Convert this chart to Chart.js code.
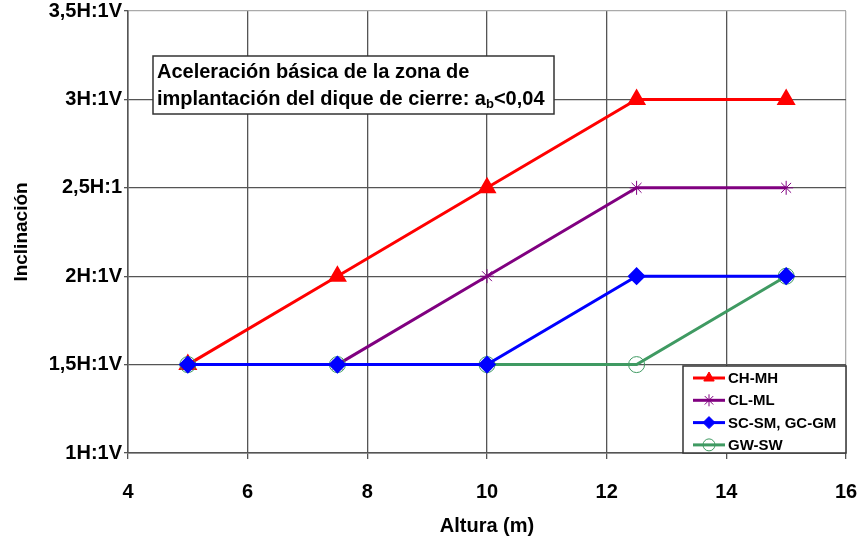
<!DOCTYPE html>
<html>
<head>
<meta charset="utf-8">
<script src="https://cdn.jsdelivr.net/npm/chart.js@4"></script>
<style>
  html, body { margin: 0; padding: 0; background: #fff; }
  #wrap { width: 862px; height: 542px; }
</style>
</head>
<body>
<div id="wrap"><canvas id="chart" width="862" height="542"></canvas></div>
<script>
const FONT = "'Liberation Sans', Arial, sans-serif"

const seriesNames = ['CH-MH', 'CL-ML', 'SC-SM, GC-GM', 'GW-SW']
const chMh = [[5, 1.5], [7.5, 2], [10, 2.5], [12.5, 3], [15, 3]]
const clMl = [[7.5, 1.5], [10, 2], [12.5, 2.5], [15, 2.5]]
const scSm = [[5, 1.5], [7.5, 1.5], [10, 1.5], [12.5, 2], [15, 2]]
const gwSw = [[5, 1.5], [7.5, 1.5], [10, 1.5], [12.5, 1.5], [15, 2]]
const yTickLabels = { 1: '1H:1V', 1.5: '1,5H:1V', 2: '2H:1V', 2.5: '2,5H:1', 3: '3H:1V', 3.5: '3,5H:1V' }

const toPoints = arr => arr.map(([x, y]) => ({ x, y }))

const colors = ['#ff0000', '#800080', '#0000ff', '#3f9a62']

// legend box drawn inside the plot, bottom right
const boxLegend = {
  id: 'boxLegend',
  afterDraw (chart) {
    const { ctx, chartArea } = chart
    const w = 163
    const h = 87
    const left = chartArea.right - w
    const top = chartArea.bottom - h
    ctx.save()
    ctx.fillStyle = '#fff'
    ctx.fillRect(left, top, w, h)
    ctx.strokeStyle = '#333'
    ctx.lineWidth = 1.5
    ctx.strokeRect(left, top, w, h)
    ctx.font = `bold 15px ${FONT}`
    ctx.textBaseline = 'middle'
    chart.data.datasets.forEach((ds, i) => {
      const y = top + 12 + i * 22.3
      ctx.strokeStyle = ds.borderColor
      ctx.lineWidth = 3
      ctx.beginPath()
      ctx.moveTo(left + 10, y)
      ctx.lineTo(left + 42, y)
      ctx.stroke()
      const style = {
        pointStyle: ds.pointStyle,
        radius: Math.min(ds.pointRadius, 6),
        borderWidth: ds.pointBorderWidth || 1
      }
      ctx.fillStyle = ds.pointBackgroundColor
      ctx.strokeStyle = ds.pointBorderColor
      ctx.lineWidth = style.borderWidth
      Chart.helpers.drawPoint(ctx, style, left + 26, y)
      ctx.fillStyle = '#000'
      ctx.fillText(ds.label, left + 45, y + 1)
    })
    ctx.restore()
  }
}

// note box top left
const noteBox = {
  id: 'noteBox',
  afterDraw (chart) {
    const { ctx, chartArea } = chart
    const left = chartArea.left + 25
    const top = chartArea.top + 45
    ctx.save()
    ctx.fillStyle = '#fff'
    ctx.fillRect(left, top, 401, 58)
    ctx.strokeStyle = '#333'
    ctx.lineWidth = 1.5
    ctx.strokeRect(left, top, 401, 58)
    ctx.fillStyle = '#000'
    ctx.textBaseline = 'middle'
    ctx.font = `bold 20px ${FONT}`
    ctx.fillText('Aceleración básica de la zona de', left + 4, top + 16)
    let x = left + 4
    const line2 = 'implantación del dique de cierre: a'
    ctx.fillText(line2, x, top + 43)
    x += ctx.measureText(line2).width
    ctx.font = `bold 13px ${FONT}`
    ctx.fillText('b', x, top + 48)
    x += ctx.measureText('b').width
    ctx.font = `bold 20px ${FONT}`
    ctx.fillText('<0,04', x, top + 43)
    ctx.restore()
  }
}

const mk = (i, data, extra) => Object.assign({
  label: seriesNames[i],
  data: toPoints(data),
  borderColor: colors[i],
  backgroundColor: colors[i],
  pointBackgroundColor: colors[i],
  pointBorderColor: colors[i],
  borderWidth: 3,
  tension: 0,
  fill: false
}, extra)

const gridColor = ctx => (ctx.tick && (ctx.tick.value === 16 || ctx.tick.value === 3.5)) ? '#aaa' : '#555'

new Chart(document.getElementById('chart'), {
  type: 'line',
  data: {
    datasets: [
      mk(0, chMh, { pointStyle: 'triangle', pointRadius: 8, order: 4 }),
      mk(1, clMl, { pointStyle: 'star', pointRadius: 7, pointBorderWidth: 1, order: 3 }),
      mk(2, scSm, { pointStyle: 'rectRot', pointRadius: 7, order: 1 }),
      mk(3, gwSw, { pointStyle: 'circle', pointRadius: 8, pointBackgroundColor: 'rgba(0,0,0,0)', pointBorderWidth: 1, order: 2 })
    ]
  },
  options: {
    responsive: false,
    animation: false,
    layout: { padding: { top: 8, right: 16, left: 0, bottom: 0 } },
    scales: {
      x: {
        type: 'linear',
        min: 4,
        max: 16,
        afterFit: scale => {
          scale.height = 89
          scale.paddingLeft = 0
          scale.paddingRight = 0
        },
        ticks: { stepSize: 2, color: '#000', padding: 21, font: { family: FONT, size: 20, weight: 'bold' } },
        grid: { color: gridColor, lineWidth: 1.3, tickLength: 6, tickColor: '#555' },
        border: { color: '#555', width: 1.5 },
        title: { display: true, text: 'Altura (m)', color: '#000', padding: { top: 4, bottom: 4 }, font: { family: FONT, size: 20, weight: 'bold' } }
      },
      y: {
        min: 1,
        max: 3.5,
        afterFit: scale => {
          scale.width = 128
          scale.paddingTop = 0
          scale.paddingBottom = 0
        },
        ticks: {
          stepSize: 0.5,
          color: '#000',
          padding: 2,
          font: { family: FONT, size: 20, weight: 'bold' },
          callback: v => yTickLabels[v] || ''
        },
        grid: { color: gridColor, lineWidth: 1.3, tickLength: 4, tickColor: '#555' },
        border: { color: '#555', width: 1.5 },
        title: { display: true, text: 'Inclinación', color: '#000', padding: { bottom: 0, top: 10 }, font: { family: FONT, size: 19, weight: 'bold' } }
      }
    },
    plugins: {
      legend: { display: false },
      tooltip: { enabled: false }
    }
  },
  plugins: [noteBox, boxLegend]
})
</script>
</body>
</html>
